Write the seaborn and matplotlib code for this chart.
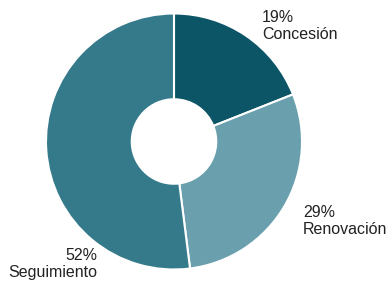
import matplotlib
matplotlib.use("Agg")
import matplotlib.pyplot as plt
import seaborn as sns

categories = ["Concesión", "Renovación", "Seguimiento"]
values = [19, 29, 52]
colors = ["#0b5567", "#6a9fae", "#357a8b"]

sns.set_theme(style="white")
plt.rcParams["font.family"] = ["Liberation Sans", "DejaVu Sans"]

W, H = 391, 284
fig = plt.figure(figsize=(W / 100, H / 100), dpi=100)
ax = fig.add_axes([0, 0, 1, 1])
cx, cy, R = 174, 141.5, 128

ax.pie(values, colors=colors, startangle=90, counterclock=False,
       radius=1, wedgeprops=dict(width=0.67, edgecolor="white", linewidth=1.5))
ax.set_xlim(-cx / R, (W - cx) / R)
ax.set_ylim(-(H - cy) / R, cy / R)
ax.set_aspect("equal")
ax.axis("off")

# label anchor positions in pixels (left/right edge, vertical centre)
label_pos = [(262, 26, "left"), (303, 221, "left"), (97, 264, "right")]
for cat, v, (px, py, ha) in zip(categories, values, label_pos):
    ax.text((px - cx) / R, (cy - py) / R, f"{v}%\n{cat}", ha=ha, va="center",
            fontsize=11.5, color="#222222", linespacing=1.15,
            multialignment=ha)

fig.savefig("out.png", dpi=100, facecolor="white")
